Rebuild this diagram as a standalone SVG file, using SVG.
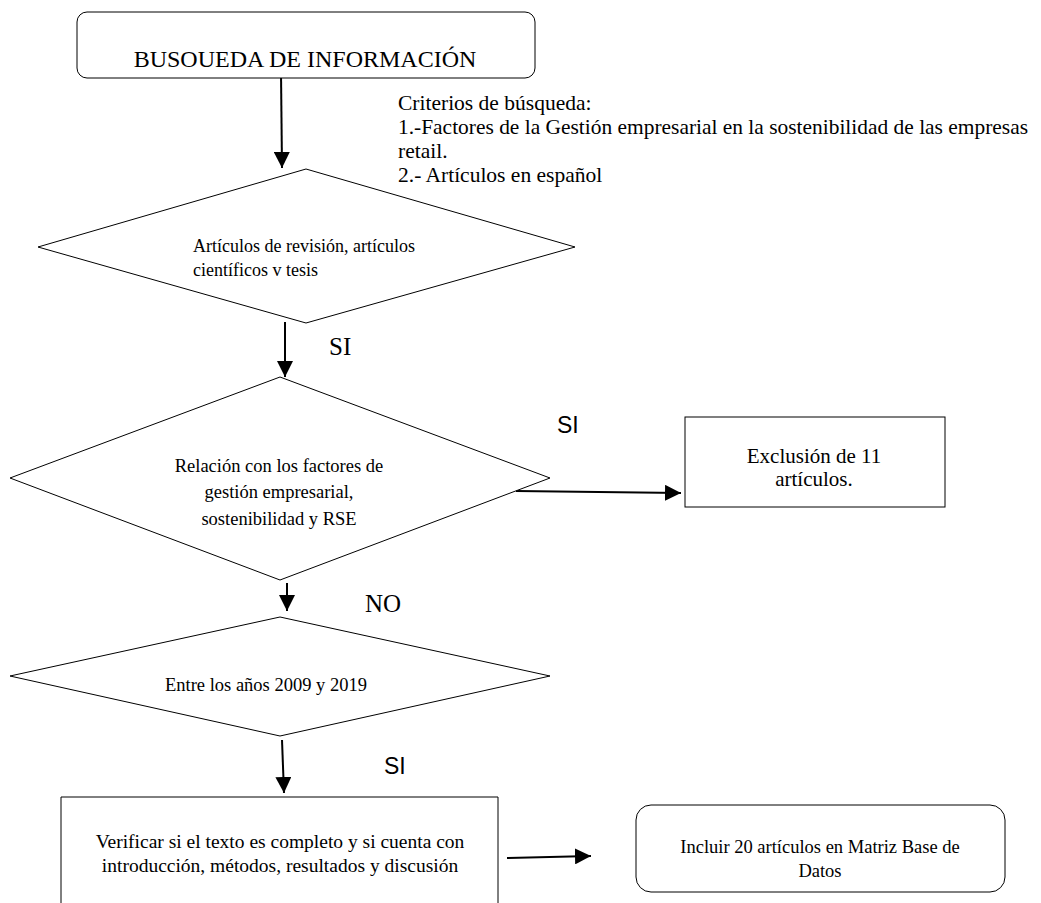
<svg xmlns="http://www.w3.org/2000/svg" width="1041" height="903" viewBox="0 0 1041 903">
<style>
.shape{fill:#fff;stroke:#000;stroke-width:1}
.t{font-family:"Liberation Serif","Times New Roman",serif;fill:#000}
.s{font-family:"Liberation Sans",Arial,sans-serif;fill:#000}
.c{fill:none;stroke:#000;stroke-width:2}
</style>
<defs>
<marker id="ah" viewBox="0 0 10 10" refX="10" refY="5" markerWidth="8" markerHeight="8" orient="auto" markerUnits="strokeWidth">
<path d="M0,0 L10,5 L0,10 z" fill="#000"/>
</marker>
</defs>
<rect width="1041" height="903" fill="#fff"/>
<g id="connectors">
<line class="c" x1="281" y1="72" x2="282" y2="168" marker-end="url(#ah)"/>
<line class="c" x1="285" y1="322" x2="285" y2="377" marker-end="url(#ah)"/>
<line class="c" x1="516" y1="491" x2="681" y2="493" marker-end="url(#ah)"/>
<line class="c" x1="287" y1="583" x2="287" y2="611" marker-end="url(#ah)"/>
<line class="c" x1="282" y1="740" x2="284" y2="793" marker-end="url(#ah)"/>
<line class="c" x1="507" y1="858" x2="591" y2="856" marker-end="url(#ah)"/>
</g>
<g id="busqueda">
<rect class="shape" x="77" y="12" width="458" height="66" rx="10"/>
<text class="t" x="305" y="67" font-size="24" text-anchor="middle">BUSOUEDA DE INFORMACIÓN</text>
</g>
<g id="criterios">
<text class="t" x="398" y="110" font-size="21.5">Criterios de búsqueda:</text>
<text class="t" x="398" y="134" font-size="21.5" textLength="630" lengthAdjust="spacingAndGlyphs">1.-Factores de la Gestión empresarial en la sostenibilidad de las empresas</text>
<text class="t" x="398" y="158" font-size="21.5">retail.</text>
<text class="t" x="398" y="182" font-size="21.5">2.- Artículos en español</text>
</g>
<g id="articulos">
<polygon class="shape" points="306,169 575,247 306,323 38,247"/>
<text class="t" x="193" y="252" font-size="18">Artículos de revisión, artículos</text>
<text class="t" x="193" y="276" font-size="18">científicos v tesis</text>
</g>
<text class="t" x="329" y="355" font-size="25">SI</text>
<g id="relacion">
<polygon class="shape" points="280,377 550,478 280,580 10,478"/>
<text class="t" x="279" y="472" font-size="18.5" text-anchor="middle">Relación con los factores de</text>
<text class="t" x="279" y="498" font-size="18.5" text-anchor="middle">gestión empresarial,</text>
<text class="t" x="279" y="525" font-size="18.5" text-anchor="middle">sostenibilidad y RSE</text>
</g>
<text class="s" x="557" y="433" font-size="23">SI</text>
<g id="exclusion">
<rect class="shape" x="685" y="417" width="260" height="90"/>
<text class="t" x="814" y="463" font-size="21" text-anchor="middle">Exclusión de 11</text>
<text class="t" x="814" y="486" font-size="21" text-anchor="middle">artículos.</text>
</g>
<text class="t" x="365" y="612" font-size="25">NO</text>
<g id="anios">
<polygon class="shape" points="280,617 550,676 280,736 10,676"/>
<text class="t" x="165" y="691" font-size="18.5">Entre los años 2009 y 2019</text>
</g>
<text class="s" x="384" y="774" font-size="23">SI</text>
<g id="verificar">
<path class="shape" d="M61,903 L61,797 L498,797 L498,903"/>
<text class="t" x="280" y="848" font-size="19.5" text-anchor="middle">Verificar si el texto es completo y si cuenta con</text>
<text class="t" x="280" y="872" font-size="19.5" text-anchor="middle">introducción, métodos, resultados y discusión</text>
</g>
<g id="incluir">
<rect class="shape" x="636" y="805" width="369" height="87" rx="15"/>
<text class="t" x="820" y="853" font-size="18.5" text-anchor="middle">Incluir 20 artículos en Matriz Base de</text>
<text class="t" x="820" y="877" font-size="18.5" text-anchor="middle">Datos</text>
</g>
</svg>
